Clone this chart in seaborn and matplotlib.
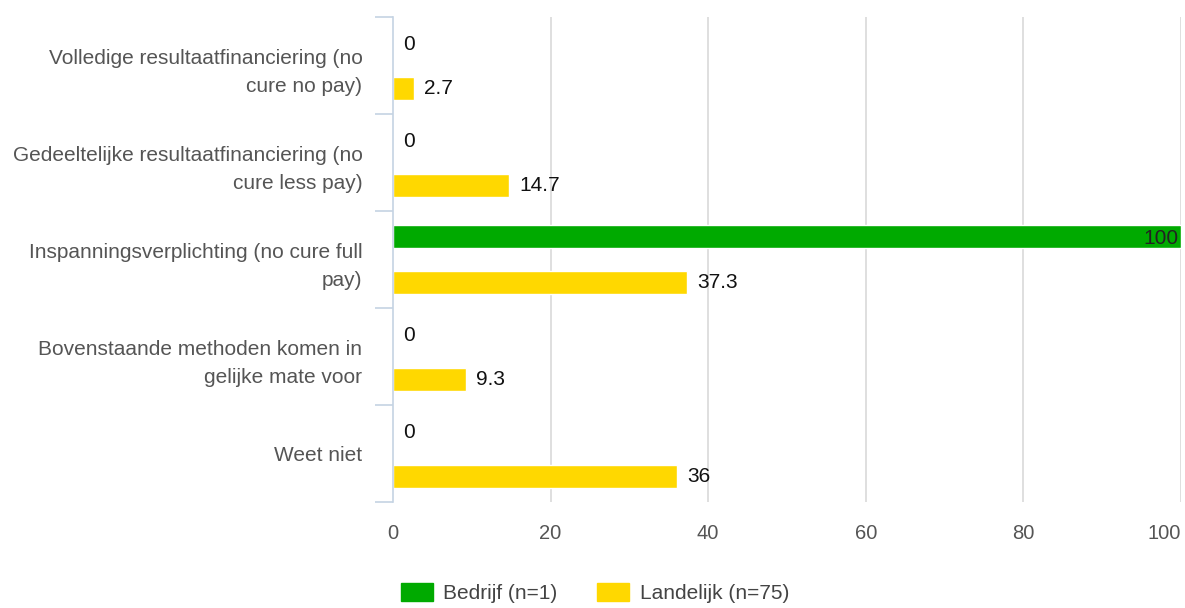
import matplotlib.pyplot as plt
import pandas as pd
import seaborn as sns

# data
categories = [
    "Volledige resultaatfinanciering (no\ncure no pay)",
    "Gedeeltelijke resultaatfinanciering (no\ncure less pay)",
    "Inspanningsverplichting (no cure full\npay)",
    "Bovenstaande methoden komen in\ngelijke mate voor",
    "Weet niet",
]
bedrijf = [0, 0, 100, 0, 0]
landelijk = [2.7, 14.7, 37.3, 9.3, 36]
series_names = ["Bedrijf (n=1)", "Landelijk (n=75)"]
colors = ["#00aa00", "#ffd800"]
x_ticks = [0, 20, 40, 60, 80, 100]

df = pd.DataFrame({
    "cat": categories * 2,
    "val": bedrijf + landelijk,
    "series": [series_names[0]] * len(categories) + [series_names[1]] * len(categories),
})

sns.set_style("white")
plt.rcParams["font.family"] = ["Liberation Sans", "DejaVu Sans"]

fig = plt.figure(figsize=(11.85, 6.08), dpi=100)
ax = fig.add_axes([0.3316, 0.1743, 0.665, 0.7977])

sns.barplot(data=df, y="cat", x="val", hue="series", palette=colors,
            orient="h", width=0.96, gap=0.5, ax=ax, legend=False,
            saturation=1)

ax.set_xlim(0, 100)
ax.set_ylim(len(categories) - 0.5, -0.5)
ax.set_xlabel("")
ax.set_ylabel("")

# vertical grid
ax.set_xticks(x_ticks)
ax.set_xticklabels([str(t) for t in x_ticks], color="#555555", fontsize=14.5)
ax.get_xticklabels()[-1].set_ha("right")
ax.tick_params(axis="x", length=0, pad=16)
for t in x_ticks[1:]:
    ax.axvline(t, color="#d9d9d9", lw=1.2, zorder=0)

# y axis: bracket style separators
ax.set_yticks(range(len(categories)))
ax.set_yticklabels(categories, color="#555555", fontsize=15, linespacing=1.6)
ax.tick_params(axis="y", which="major", length=0, pad=22)
ax.set_yticks([i - 0.5 for i in range(len(categories) + 1)], minor=True)
ax.tick_params(axis="y", which="minor", left=True, length=13, width=1.2,
               color="#c5d3e3")

for s in ["top", "right", "bottom"]:
    ax.spines[s].set_visible(False)
ax.spines["left"].set_color("#c5d3e3")
ax.spines["left"].set_linewidth(1.2)

# value labels
for i in range(len(categories)):
    for vals, off in [(bedrijf, -0.22), (landelijk, 0.24)]:
        v = vals[i]
        txt = f"{v:g}"
        if v >= 95:
            ax.text(v - 0.3, i + off, txt, ha="right", va="center", fontsize=15, color="#222222")
        else:
            ax.text(v + 1.3, i + off, txt, ha="left", va="center", fontsize=15, color="#111111")

handles = [plt.Rectangle((0, 0), 1, 1, color=c) for c in colors]
fig.legend(handles, series_names, loc="center", ncol=2, frameon=False,
           bbox_to_anchor=(0.502, 0.025), fontsize=15, handlelength=1.55,
           handleheight=1.0, handletextpad=0.5, columnspacing=1.9,
           labelcolor="#444444")

fig.savefig("out.png", dpi=100)
